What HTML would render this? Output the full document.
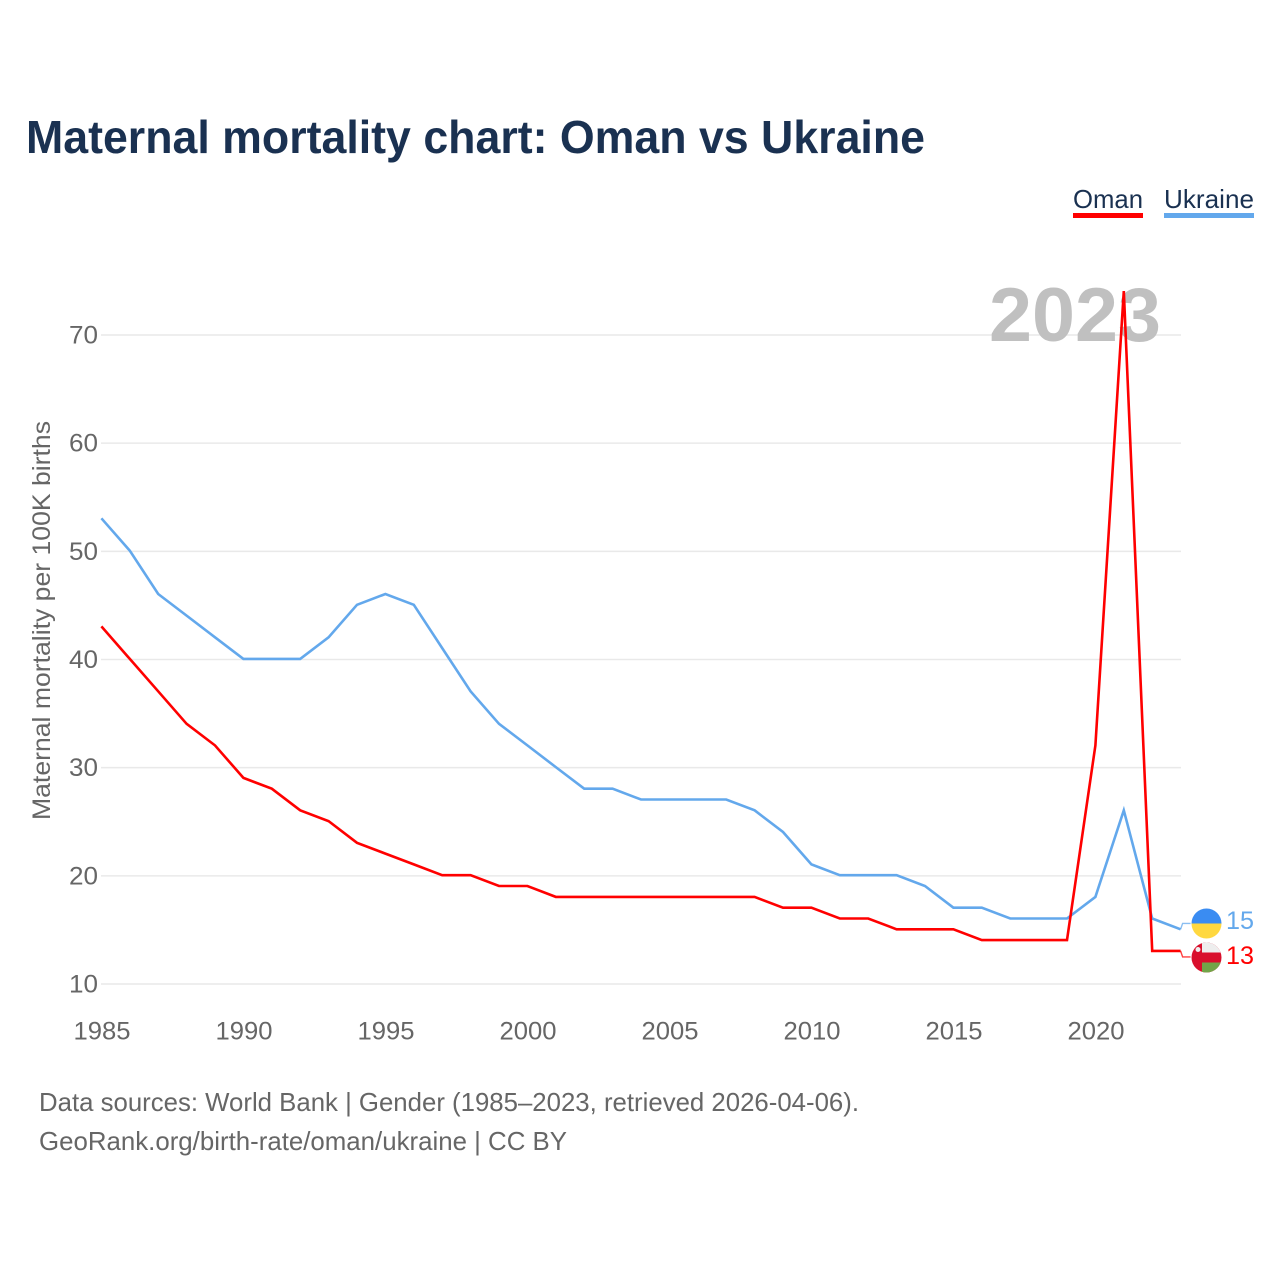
<!DOCTYPE html>
<html><head><meta charset="utf-8"><title>Maternal mortality chart</title>
<style>html,body{margin:0;padding:0;background:#fff}svg{display:block}text{font-family:"Liberation Sans",sans-serif}</style></head>
<body>
<svg id="chart" xmlns="http://www.w3.org/2000/svg" width="1280" height="1280" viewBox="0 0 1280 1280">
<text x="26" y="153" font-size="46" font-weight="700" fill="#1a3151" textLength="899" lengthAdjust="spacingAndGlyphs">Maternal mortality chart: Oman vs Ukraine</text>
<g id="grid"></g>
<text x="1161" y="341" text-anchor="end" font-size="76" font-weight="700" fill="#c0c0c0" textLength="172" lengthAdjust="spacingAndGlyphs">2023</text>
<g id="yticks"></g>
<g id="xticks"></g>
<text transform="translate(50,820) rotate(-90)" font-size="25" fill="#666" textLength="399" lengthAdjust="spacingAndGlyphs">Maternal mortality per 100K births</text>
<g id="series" transform="translate(-0.6,-0.6)"></g>
<g>
<text x="1073" y="208" font-size="26" fill="#1a3151" textLength="70" lengthAdjust="spacingAndGlyphs">Oman</text>
<rect x="1073" y="213" width="70" height="5" fill="#ff0000"/>
</g>
<g>
<text x="1164" y="208" font-size="26" fill="#1a3151" textLength="90" lengthAdjust="spacingAndGlyphs">Ukraine</text>
<rect x="1164" y="213" width="90" height="5" fill="#63a8ec"/>
</g>
<defs>
<clipPath id="clipU"><circle cx="1206.5" cy="923.5" r="15"/></clipPath>
<clipPath id="clipO"><circle cx="1206.5" cy="957.5" r="15"/></clipPath>
</defs>
<g clip-path="url(#clipU)">
<rect x="1191" y="908" width="31" height="15.5" fill="#3a8cf2"/>
<rect x="1191" y="923.5" width="31" height="16" fill="#ffd840"/>
</g>
<g clip-path="url(#clipO)">
<rect x="1191" y="942" width="31" height="31" fill="#d90f2c"/>
<rect x="1202" y="942" width="20" height="10.5" fill="#eeeeee"/>
<rect x="1202" y="962.5" width="20" height="11" fill="#72a548"/>
<circle cx="1198" cy="949.5" r="2.5" fill="#eeeeee"/>
</g>
<text x="1226" y="929" font-size="25" fill="#63a8ec" textLength="28" lengthAdjust="spacingAndGlyphs">15</text>
<text x="1226" y="964" font-size="25" fill="#ff0000" textLength="28" lengthAdjust="spacingAndGlyphs">13</text>
<text x="39" y="1111" font-size="26" fill="#666" textLength="820" lengthAdjust="spacingAndGlyphs">Data sources: World Bank | Gender (1985–2023, retrieved 2026-04-06).</text>
<text x="39" y="1150" font-size="26" fill="#666" textLength="528" lengthAdjust="spacingAndGlyphs">GeoRank.org/birth-rate/oman/ukraine | CC BY</text>
</svg>
<script>
var years = [1985,1986,1987,1988,1989,1990,1991,1992,1993,1994,1995,1996,1997,1998,1999,2000,2001,2002,2003,2004,2005,2006,2007,2008,2009,2010,2011,2012,2013,2014,2015,2016,2017,2018,2019,2020,2021,2022,2023];
var omanValues = [43,40,37,34,32,29,28,26,25,23,22,21,20,20,19,19,18,18,18,18,18,18,18,18,17,17,16,16,15,15,15,14,14,14,14,32,74,13,13];
var ukraineValues = [53,50,46,44,42,40,40,40,42,45,46,45,41,37,34,32,30,28,28,27,27,27,27,26,24,21,20,20,20,19,17,17,16,16,16,18,26,16,15];
var yTickValues = [10,20,30,40,50,60,70];
var xTickValues = [1985,1990,1995,2000,2005,2010,2015,2020];
var NS = 'http://www.w3.org/2000/svg';
function xScale(v){ return 102 + (v - 1985) * 28.4; }
function yScale(v){ return 984 - (v - 10) * 10.817; }
function make(parent, tag, attrs){
  var el = document.createElementNS(NS, tag);
  for (var k in attrs) el.setAttribute(k, attrs[k]);
  document.getElementById(parent).appendChild(el);
  return el;
}
yTickValues.forEach(function(v){
  var line = make('grid', 'line', {x1: 101, x2: 1181, y1: yScale(v), y2: yScale(v), stroke: '#e9e9e9', 'stroke-width': 1.5});
  
  
  var t = make('yticks', 'text', {x: 98, y: yScale(v) + 8.5, 'text-anchor': 'end', 'font-size': 25, fill: '#666', textLength: 29, lengthAdjust: 'spacingAndGlyphs'});
  t.textContent = v;
  
  
});
xTickValues.forEach(function(v){
  var t = make('xticks', 'text', {x: xScale(v), y: 1039.5, 'text-anchor': 'middle', 'font-size': 25, fill: '#666', textLength: 57, lengthAdjust: 'spacingAndGlyphs'});
  t.textContent = v;
  
  
});
function drawSeries(values, color, name, labelY){
  var d = years.map(function(y, i){ return xScale(y).toFixed(1) + ',' + yScale(values[i]).toFixed(1); }).join(' ');
  var p = make('series', 'polyline', {points: d, fill: 'none', stroke: color, 'stroke-width': 2.6, 'stroke-linejoin': 'miter'});
  
  
  var endX = xScale(years[years.length - 1]);
  var endY = yScale(values[values.length - 1]);
  var c = make('series', 'polyline', {points: endX + ',' + endY + ' ' + (endX + 2) + ',' + labelY + ' ' + (endX + 10) + ',' + labelY, fill: 'none', stroke: color, 'stroke-width': 1.4, opacity: 0.75});
  
  
}
drawSeries(ukraineValues, '#63a8ec', 'ukraine-line', 924);
drawSeries(omanValues, '#ff0000', 'oman-line', 957.5);
</script>
</body></html>
